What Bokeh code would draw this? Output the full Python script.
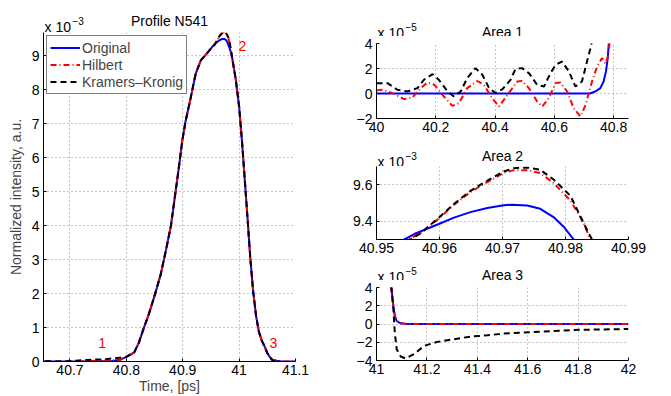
import numpy as np
from bokeh.plotting import figure
from bokeh.layouts import row, column
from bokeh.models import Range1d, FixedTicker, CustomJSTickFormatter
from bokeh.embed import file_html
from bokeh.resources import INLINE
from bokeh.core.properties import value

# ---------------- data (time in ps, intensity in a.u.) ----------------
# shared segments where all three curves coincide
rise_t = [40.814, 40.822, 40.831, 40.840, 40.851, 40.861, 40.870, 40.879, 40.885, 40.893,
          40.899, 40.905, 40.914, 40.923, 40.932, 40.941, 40.947]
rise_v = [0.27e-3, 0.55e-3, 0.99e-3, 1.40e-3, 1.99e-3, 2.57e-3, 3.26e-3, 3.99e-3, 4.72e-3, 5.70e-3,
          6.48e-3, 7.07e-3, 7.75e-3, 8.47e-3, 8.86e-3, 9.03e-3, 9.15e-3]
fall_t = [40.988, 40.994, 41.000, 41.005, 41.010, 41.015, 41.020, 41.025, 41.030, 41.035,
          41.040, 41.045, 41.050, 41.055]
fall_v = [8.90e-3, 8.30e-3, 7.50e-3, 6.50e-3, 5.35e-3, 4.20e-3, 3.00e-3, 2.05e-3, 1.35e-3, 0.88e-3,
          0.62e-3, 0.45e-3, 0.25e-3, 0.12e-3]

# Original
orig_lead_t = [40.000, 40.720, 40.738, 40.755, 40.766, 40.774, 40.780, 40.785, 40.790, 40.800]
orig_lead_v = [0.0, 0.0, 0.16e-5, 0.43e-5, 0.96e-5, 1.76e-5, 2.83e-5, 4.5e-5, 7.0e-5, 13e-5]
orig_peak_t = [40.9544, 40.956, 40.9597, 40.9623, 40.9649, 40.9676, 40.9702, 40.9715, 40.9739,
               40.976, 40.9781, 40.9797, 40.9813, 40.985]
orig_peak_v = [9.300e-3, 9.330e-3, 9.382e-3, 9.420e-3, 9.450e-3, 9.473e-3, 9.488e-3, 9.491e-3, 9.486e-3,
               9.468e-3, 9.423e-3, 9.370e-3, 9.300e-3, 9.120e-3]
orig_tail_t = [41.059, 41.067, 41.073, 41.080, 41.096, 41.120, 42.000]
orig_tail_v = [4.0e-5, 1.96e-5, 0.87e-5, 0.33e-5, 0.07e-5, 0.0, 0.0]

# Hilbert
hilb_lead_t = [40.000, 40.020, 40.054, 40.093, 40.121, 40.149, 40.172, 40.195, 40.222, 40.256,
               40.278, 40.306, 40.340, 40.362, 40.390, 40.413, 40.446, 40.475, 40.491, 40.514,
               40.542, 40.559, 40.581, 40.604, 40.620, 40.643, 40.665, 40.688, 40.705, 40.727,
               40.744, 40.761, 40.772, 40.780, 40.789, 40.800]
hilb_lead_v = [0.25e-5, 0.30e-5, 0.03e-5, -0.45e-5, -0.32e-5, 0.43e-5, 0.88e-5, 0.70e-5, -0.10e-5, -0.99e-5,
               -0.77e-5, 0.43e-5, 1.00e-5, 0.70e-5, -0.37e-5, -1.04e-5, 0.03e-5, 0.96e-5, 1.01e-5, 0.43e-5,
               -0.64e-5, -1.04e-5, -0.37e-5, 0.83e-5, 0.88e-5, 0.16e-5, -1.17e-5, -1.84e-5, -0.91e-5, 0.96e-5,
               2.16e-5, 2.83e-5, 2.40e-5, 2.90e-5, 4.50e-5, 13e-5]
hilb_peak_t = [40.955, 40.957, 40.9597, 40.9623, 40.9649, 40.9676, 40.9702, 40.9718, 40.9739,
               40.976, 40.9781, 40.9808, 40.9829, 40.9839]
hilb_peak_v = [9.300e-3, 9.334e-3, 9.410e-3, 9.490e-3, 9.560e-3, 9.615e-3, 9.665e-3, 9.680e-3, 9.680e-3,
               9.664e-3, 9.610e-3, 9.513e-3, 9.390e-3, 9.300e-3]
hilb_tail_t = [41.059, 41.067, 41.073, 41.080, 41.096, 41.120, 42.000]
hilb_tail_v = [4.0e-5, 1.96e-5, 0.87e-5, 0.33e-5, 0.07e-5, 0.0, 0.0]

# Kramers-Kronig
kk_lead_t = [40.000, 40.037, 40.070, 40.104, 40.138, 40.160, 40.189, 40.210, 40.240, 40.261,
             40.284, 40.306, 40.334, 40.357, 40.380, 40.402, 40.425, 40.452, 40.469, 40.491,
             40.514, 40.542, 40.565, 40.587, 40.604, 40.626, 40.649, 40.671, 40.693, 40.710,
             40.722, 40.730, 40.760, 40.780, 40.800]
kk_lead_v = [0.83e-5, 0.83e-5, 0.30e-5, 0.16e-5, 0.43e-5, 1.10e-5, 1.55e-5, 1.10e-5, 0.16e-5, -0.24e-5,
             0.16e-5, 1.23e-5, 2.03e-5, 1.50e-5, 0.43e-5, 0.03e-5, 0.35e-5, 1.09e-5, 1.97e-5, 2.03e-5,
             1.63e-5, 0.69e-5, 0.56e-5, 1.63e-5, 2.29e-5, 2.56e-5, 1.76e-5, 0.56e-5, 0.96e-5, 2.56e-5,
             3.63e-5, 4.60e-5, 6.5e-5, 9.5e-5, 14e-5]
kk_peak_t = [40.9554, 40.957, 40.9597, 40.9623, 40.9649, 40.9676, 40.9702, 40.9718, 40.9739,
             40.976, 40.9781, 40.9808, 40.9829, 40.9842]
kk_peak_v = [9.300e-3, 9.334e-3, 9.414e-3, 9.495e-3, 9.566e-3, 9.623e-3, 9.673e-3, 9.691e-3, 9.695e-3,
             9.682e-3, 9.629e-3, 9.539e-3, 9.388e-3, 9.300e-3]
kk_tail_t = [41.059, 41.067, 41.0726, 41.080, 41.096, 41.116, 41.149, 41.189, 41.241, 41.307,
             41.373, 41.440, 41.505, 41.571, 41.782, 42.000]
kk_tail_v = [4.0e-5, 1.6e-5, -0.95e-5, -2.76e-5, -3.56e-5, -3.78e-5, -3.30e-5, -2.40e-5, -1.96e-5, -1.67e-5,
             -1.38e-5, -1.24e-5, -1.05e-5, -0.95e-5, -0.65e-5, -0.55e-5]

# numbered markers in the main panel
mark_x = [40.757, 41.006, 41.061]
mark_y = [0.54e-3, 9.28e-3, 0.54e-3]
mark_txt = ["1", "2", "3"]

series_names = ["Original", "Hilbert", "Kramers\u2013Kronig"]
panel_titles = ["Profile N541", "Area 1", "Area 2", "Area 3"]
panel_exponents = ["\u22123", "\u22125", "\u22123", "\u22125"]

# ---------------- assemble series ----------------
t_orig = np.array(orig_lead_t + rise_t + orig_peak_t + fall_t + orig_tail_t)
v_orig = np.array(orig_lead_v + rise_v + orig_peak_v + fall_v + orig_tail_v)
t_hilb = np.array(hilb_lead_t + rise_t + hilb_peak_t + fall_t + hilb_tail_t)
v_hilb = np.array(hilb_lead_v + rise_v + hilb_peak_v + fall_v + hilb_tail_v)
t_kk = np.array(kk_lead_t + rise_t + kk_peak_t + fall_t + kk_tail_t)
v_kk = np.array(kk_lead_v + rise_v + kk_peak_v + fall_v + kk_tail_v)
series = [(t_orig, v_orig), (t_hilb, v_hilb), (t_kk, v_kk)]

FONT = "Liberation Sans"
FS = "14px"
styles = [dict(line_color="#0000ff", line_width=2),
          dict(line_color="#ff0000", line_width=2, line_dash="6 3 1 3"),
          dict(line_color="#000000", line_width=2, line_dash="6 4")]

fmt_code = ("var v = Math.round(tick*1000)/1000; var s = String(Math.abs(v));"
            "return (v < 0 ? '\u2212' : '') + s;")


def style_axes(p, xticks, yticks):
    p.xaxis.ticker = FixedTicker(ticks=xticks)
    p.yaxis.ticker = FixedTicker(ticks=yticks)
    for ax in list(p.xaxis) + list(p.yaxis):
        ax.major_tick_in = 3
        ax.major_tick_out = 0
        ax.minor_tick_line_color = None
        ax.axis_line_color = "#000000"
        ax.major_tick_line_color = "#000000"
        ax.major_label_text_font = FONT
        ax.major_label_text_font_size = FS
        ax.major_label_text_color = "#000000"
        ax.axis_label_text_font = FONT
        ax.axis_label_text_font_size = FS
        ax.axis_label_text_font_style = "normal"
        ax.formatter = CustomJSTickFormatter(code=fmt_code)
    for ax in p.yaxis:
        ax.major_label_standoff = 4
    for ax in p.xaxis:
        ax.major_label_standoff = 3
    for g in list(p.xgrid) + list(p.ygrid):
        g.grid_line_color = "#8c8c8c"
        g.grid_line_dash = "1 3"
        g.grid_line_width = 1
    p.outline_line_color = None
    p.background_fill_color = "white"
    p.border_fill_color = "white"


def header(width, height, left, right, title, exponent, title_top, exp_top):
    """A strip holding the panel title and the 'x 10^n' multiplier.
    Its frame has the same left/right borders as the panel below it;
    title_top / exp_top are baseline distances (px) from the top of the strip."""
    fw = width - left - right
    h = figure(width=width, height=height, title=None, output_backend="svg", toolbar_location=None,
               x_range=Range1d(0, fw), y_range=Range1d(0, height),
               x_axis_type=None, y_axis_type=None,
               min_border_left=left, min_border_right=right,
               min_border_top=0, min_border_bottom=0)
    h.outline_line_color = None
    h.background_fill_color = "white"
    h.border_fill_color = "white"
    h.text(x=[fw / 2], y=[height - title_top], text=[title],
           text_align="center", text_baseline="alphabetic", text_color="#000000",
           text_font=value(FONT), text_font_size=FS)
    h.text(x=[1], y=[height - exp_top], text=["x 10"],
           text_align="left", text_baseline="alphabetic", text_color="#000000",
           text_font=value(FONT), text_font_size=FS)
    h.text(x=[29], y=[height - exp_top + 6], text=[exponent],
           text_align="left", text_baseline="alphabetic", text_color="#000000",
           text_font=value(FONT), text_font_size="10px")
    return h


def draw(p, scale, legend=False):
    for (t, v), st, name in zip(series, styles, series_names):
        if legend:
            p.line(t, v * scale, legend_label=name, **st)
        else:
            p.line(t, v * scale, **st)


# ---------------- main panel ----------------
h0 = header(315, 32, 43, 20, panel_titles[0], panel_exponents[0], 20, 26)
main = figure(width=315, height=364, title=None, output_backend="svg", toolbar_location=None,
              x_range=Range1d(40.653, 41.1), y_range=Range1d(0, 9.68),
              min_border_left=43, min_border_right=20, min_border_top=0, min_border_bottom=35)
draw(main, 1e3, legend=True)
main.text(x=mark_x, y=list(np.array(mark_y) * 1e3), text=mark_txt, text_align="center",
          text_baseline="middle", text_color="#ff0000", text_font=value(FONT), text_font_size=FS)
style_axes(main, [40.7, 40.8, 40.9, 41.0, 41.1], list(range(0, 10)))
main.xaxis.axis_label = "Time, [ps]"
main.yaxis.axis_label = "Normalized intensity, a.u."
main.xaxis.axis_label_standoff = 0
main.yaxis.axis_label_standoff = 5
lg = main.legend[0]
lg.location = "top_left"
lg.margin = 3
lg.padding = 3
lg.spacing = 0
lg.label_height = 17
lg.glyph_height = 17
lg.glyph_width = 30
lg.label_standoff = 2
lg.border_line_color = "#000000"
lg.border_line_width = 1
lg.background_fill_alpha = 1
lg.label_text_font = FONT
lg.label_text_font_size = FS

# ---------------- area panels ----------------
common = dict(width=356, title=None, output_backend="svg", toolbar_location=None,
              min_border_left=61, min_border_right=43)

h1 = header(356, 36, 61, 43, panel_titles[1], panel_exponents[1], 31.5, 32)
a1 = figure(height=103, x_range=Range1d(40.0, 40.85), y_range=Range1d(-2, 4),
            min_border_top=7, min_border_bottom=21, **common)
draw(a1, 1e5)
style_axes(a1, [40.0, 40.2, 40.4, 40.6, 40.8], [-2, 0, 2, 4])

h2 = header(356, 27, 61, 43, panel_titles[2], panel_exponents[2], 16, 22.5)
a2 = figure(height=95, x_range=Range1d(40.95, 40.99), y_range=Range1d(9.3, 9.7),
            min_border_top=0, min_border_bottom=22, **common)
draw(a2, 1e3)
style_axes(a2, [40.95, 40.96, 40.97, 40.98, 40.99], [9.4, 9.6])

h3 = header(356, 19, 61, 43, panel_titles[3], panel_exponents[3], 13.5, 15.5)
a3 = figure(height=116, x_range=Range1d(41.0, 42.0), y_range=Range1d(-4, 4),
            min_border_top=7, min_border_bottom=36, **common)
draw(a3, 1e5)
style_axes(a3, [41.0, 41.2, 41.4, 41.6, 41.8, 42.0], [-4, -2, 0, 2, 4])

layout = row(column(h0, main, spacing=0),
             column(h1, a1, h2, a2, h3, a3, spacing=0), spacing=0)
open("out.html", "w").write(file_html(layout, INLINE))
